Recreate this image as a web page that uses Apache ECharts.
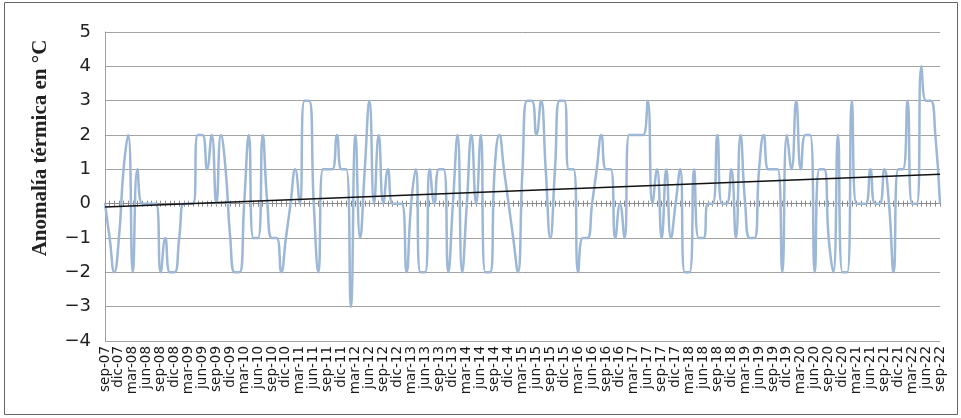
<!DOCTYPE html>
<html><head><meta charset="utf-8">
<script src="https://cdn.jsdelivr.net/npm/echarts@6/dist/echarts.min.js"></script>
<style>html,body{margin:0;padding:0;background:#fff}#c{width:961px;height:418px}</style>
</head><body><div id="c"></div>
<script>
// Month labels: sep-07 .. sep-22 (181 months)
const monthNames = ['ene','feb','mar','abr','may','jun','jul','ago','sep','oct','nov','dic'];
const firstYear = 2007;
const firstMonthIndex = 8; // sep
const monthCount = 181;
const categories = [];
for (let k = 0; k < monthCount; k++) {
  const m = (firstMonthIndex + k) % 12;
  const y = firstYear + Math.floor((firstMonthIndex + k) / 12);
  categories.push(monthNames[m] + '-' + String(y % 100).padStart(2, '0'));
}

// Monthly thermal anomaly (°C)
const anomaly = [
  0, -1, -2, -1, 1, 2, -2, 1, 0, 0, 0, 0,
  -2, -1, -2, -2, -1, 0, 0, 0, 2, 2, 1, 2,
  0, 2, 1, -1, -2, -2, 0, 2, -1, -1, 2, 0,
  -1, -1, -2, -1, 0, 1, 0, 3, 3, 0, -2, 1,
  1, 1, 2, 1, 1, -3, 2, -1, 1, 3, 0, 2,
  0, 1, 0, 0, 0, -2, 0, 1, -2, -2, 1, 0,
  1, 1, -2, 0, 2, -2, 0, 2, 0, 2, -2, -2,
  1, 2, 1, 0, -1, -2, 1, 3, 3, 2, 3, 1,
  -1, 1, 3, 3, 1, 1, -2, -1, -1, 0, 1, 2,
  1, 1, -1, 0, -1, 2, 2, 2, 2, 3, 0, 1,
  -1, 1, -1, 0, 1, -2, -2, 1, -1, -1, 0, 0,
  2, 0, 0, 1, -1, 2, 0, -1, -1, 1, 2, 1,
  1, 1, -2, 2, 1, 3, 1, 2, 2, -2, 1, 1,
  -1, -2, 2, -2, -2, 3, 0, 0, 0, 1, 0, 0,
  1, 0, -2, 1, 1, 3, 0, 0, 4, 3, 3, 2,
  0
];

// Linear trend line end values (°C)
const trendStart = -0.1;
const trendEnd = 0.86;

// Y axis range / ticks
const yMin = -4, yMax = 5, yStep = 1;

const chart = echarts.init(document.getElementById('c'), null, {renderer: 'canvas'});
const gridBox = {left: 105, right: 21, top: 32, bottom: 77};
const tickColor = '#8c8c8c';
chart.setOption({
  animation: false,
  backgroundColor: '#ffffff',
  grid: [Object.assign({}, gridBox), Object.assign({}, gridBox)],
  xAxis: [
    { // label axis at bottom
      type: 'category', data: categories, boundaryGap: false, gridIndex: 0,
      position: 'bottom',
      axisLine: {show: false, onZero: false},
      axisTick: {show: false},
      axisLabel: {interval: 2, rotate: 90, fontSize: 13.5, color: '#1a1a1a',
        fontFamily: 'DejaVu Sans', margin: 5},
      splitLine: {show: false}
    },
    { // zero line with upward ticks
      type: 'category', data: categories, boundaryGap: false, gridIndex: 0,
      position: 'top',
      axisLine: {show: true, onZero: true, lineStyle: {color: tickColor, width: 1}},
      axisTick: {show: true, interval: 0, inside: false, length: 3, lineStyle: {color: tickColor}},
      axisLabel: {show: false},
      splitLine: {show: false}
    },
    { // zero line with downward ticks
      type: 'category', data: categories, boundaryGap: false, gridIndex: 1,
      position: 'bottom',
      axisLine: {show: true, onZero: true, lineStyle: {color: tickColor, width: 1}},
      axisTick: {show: true, interval: 0, inside: false, length: 3, lineStyle: {color: tickColor}},
      axisLabel: {show: false},
      splitLine: {show: false}
    }
  ],
  yAxis: [
    {
      type: 'value', min: yMin, max: yMax, interval: yStep, gridIndex: 0,
      axisLine: {show: true, lineStyle: {color: '#a0a0a0'}},
      axisTick: {show: false},
      axisLabel: {fontSize: 18, color: '#222', fontFamily: 'DejaVu Sans', margin: 14,
        formatter: v => String(v).replace('-', '\u2212')},
      splitLine: {show: true, lineStyle: {color: '#a3a3a3', width: 1}}
    },
    {
      type: 'value', min: yMin, max: yMax, interval: yStep, gridIndex: 1, show: false
    }
  ],
  series: [
    {
      type: 'line', name: 'Anomalía', data: anomaly, xAxisIndex: 0, yAxisIndex: 0,
      smooth: 0.5, showSymbol: false, symbol: 'none',
      lineStyle: {color: '#9db7d6', width: 2.5}, z: 3
    },
    {
      type: 'line', name: 'Tendencia', data: [[0, trendStart], [monthCount - 1, trendEnd]],
      xAxisIndex: 0, yAxisIndex: 0, showSymbol: false, symbol: 'none',
      lineStyle: {color: '#111', width: 1.5}, z: 4
    }
  ],
  graphic: [
    {type: 'rect', shape: {x: 4.5, y: 2.5, width: 953, height: 412},
     style: {fill: 'none', stroke: '#666', lineWidth: 1}, silent: true},
    {type: 'text', x: 41, y: 148, rotation: Math.PI / 2,
     style: {text: 'Anomalía térmica en °C', font: 'bold 21px "Liberation Serif"', fill: '#222',
       textAlign: 'center', textVerticalAlign: 'middle'}}
  ]
});
</script>
</body></html>
